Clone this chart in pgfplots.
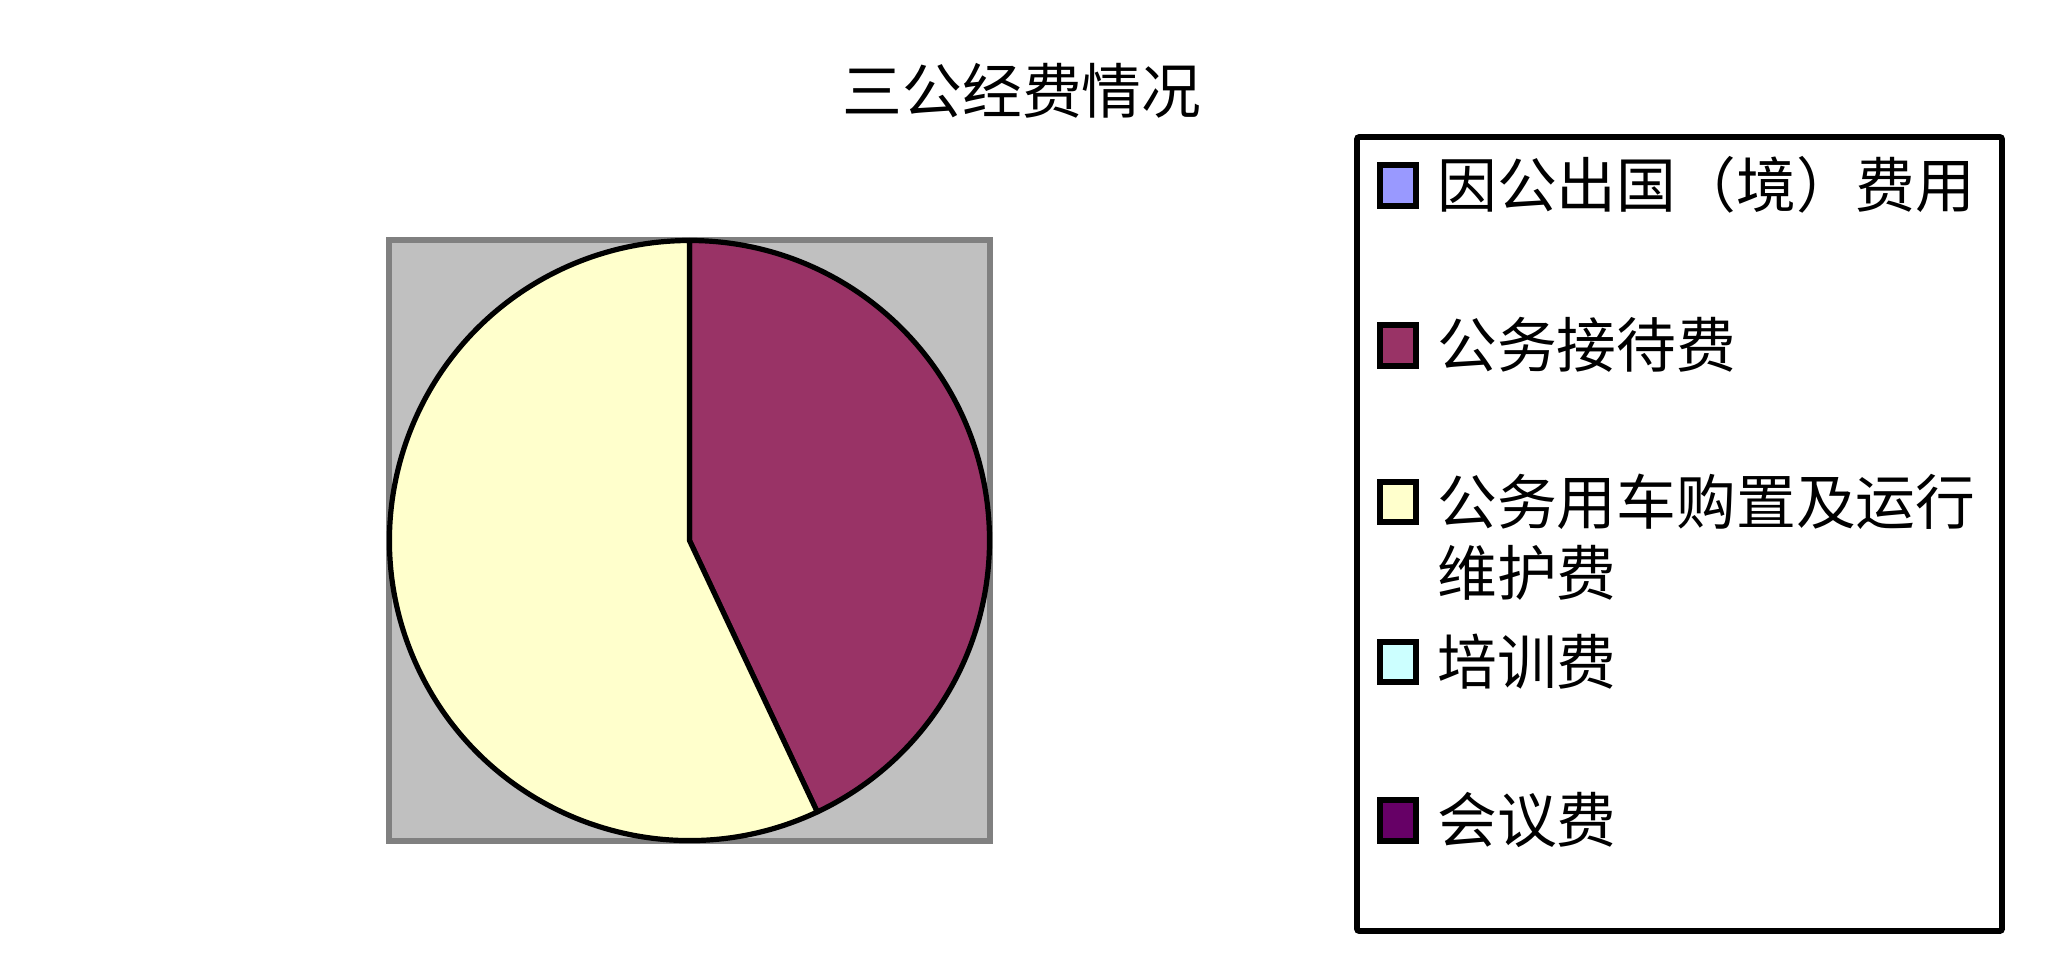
\documentclass[border=0pt]{standalone}
\usepackage{pgfplots}
\pgfplotsset{compat=1.18}
\usepackage{pgfplotstable}
\usepackage{fontspec}
\newfontfamily\cjk{Noto Sans CJK SC}
\definecolor{cA}{HTML}{9999FF}
\definecolor{cB}{HTML}{993366}
\definecolor{cC}{HTML}{FFFFCC}
\definecolor{cD}{HTML}{CCFFFF}
\definecolor{cE}{HTML}{660066}
\definecolor{plotbg}{HTML}{C0C0C0}
\definecolor{plotborder}{HTML}{808080}

\pgfplotstableread{
item value
A 0
B 43.0
C 57.0
D 0
E 0
}\piedata
\pgfplotstablegetelem{0}{value}\of\piedata \let\vA\pgfplotsretval
\pgfplotstablegetelem{1}{value}\of\piedata \let\vB\pgfplotsretval
\pgfplotstablegetelem{2}{value}\of\piedata \let\vC\pgfplotsretval
\pgfplotstablegetelem{3}{value}\of\piedata \let\vD\pgfplotsretval
\pgfplotstablegetelem{4}{value}\of\piedata \let\vE\pgfplotsretval
\pgfmathsetmacro\total{\vA+\vB+\vC+\vD+\vE}
\pgfmathsetmacro\aStartB{90-360*(\vA/\total)}
\pgfmathsetmacro\aEndB{\aStartB-360*(\vB/\total)}
\pgfmathsetmacro\aEndC{\aEndB-360*(\vC/\total)}

\begin{document}
\begin{tikzpicture}
\begin{axis}[
  x=0.5bp, y=0.5bp, y dir=reverse,
  xmin=0, xmax=2048, ymin=0, ymax=955,
  hide axis, clip=false, scale only axis,
]
\addplot[draw=none] coordinates {(0,0) (2048,955)};
\path (axis cs:0,0) rectangle (axis cs:2048,955);
% title
\node[font=\cjk\fontsize{30}{36}\selectfont, inner sep=0pt] at (axis cs:1022,91) {三公经费情况};
% plot area
\filldraw[fill=plotbg, draw=plotborder, line width=2.6bp] (axis cs:389,240) rectangle (axis cs:990,841);
% pie slices
\filldraw[fill=cB, draw=black, line width=2.6bp, line join=round]
  (axis cs:689.5,540.5) -- ++(\aStartB:150bp) arc[start angle=\aStartB, end angle=\aEndB, radius=150bp] -- cycle;
\filldraw[fill=cC, draw=black, line width=2.6bp, line join=round]
  (axis cs:689.5,540.5) -- ++(\aEndB:150bp) arc[start angle=\aEndB, end angle=\aEndC, radius=150bp] -- cycle;
% legend
\draw[line width=2.8bp, rounded corners=1bp] (axis cs:1357,137) rectangle (axis cs:2002,931);
\begin{scope}[every node/.style={font=\cjk\fontsize{30}{36}\selectfont, inner sep=0pt, anchor=west}]
\filldraw[fill=cA, draw=black, line width=2.6bp] (axis cs:1380,165) rectangle (axis cs:1416,206);
\node at (axis cs:1437,185) {因公出国（境）费用};
\filldraw[fill=cB, draw=black, line width=2.6bp] (axis cs:1380,325) rectangle (axis cs:1416,366);
\node at (axis cs:1437,345) {公务接待费};
\filldraw[fill=cC, draw=black, line width=2.6bp] (axis cs:1380,482) rectangle (axis cs:1416,522);
\node at (axis cs:1437,502) {公务用车购置及运行};
\node at (axis cs:1437,573) {维护费};
\filldraw[fill=cD, draw=black, line width=2.6bp] (axis cs:1380,642) rectangle (axis cs:1416,682);
\node at (axis cs:1437,662) {培训费};
\filldraw[fill=cE, draw=black, line width=2.6bp] (axis cs:1380,800) rectangle (axis cs:1416,841);
\node at (axis cs:1437,820) {会议费};
\end{scope}
\end{axis}
\end{tikzpicture}
\end{document}
